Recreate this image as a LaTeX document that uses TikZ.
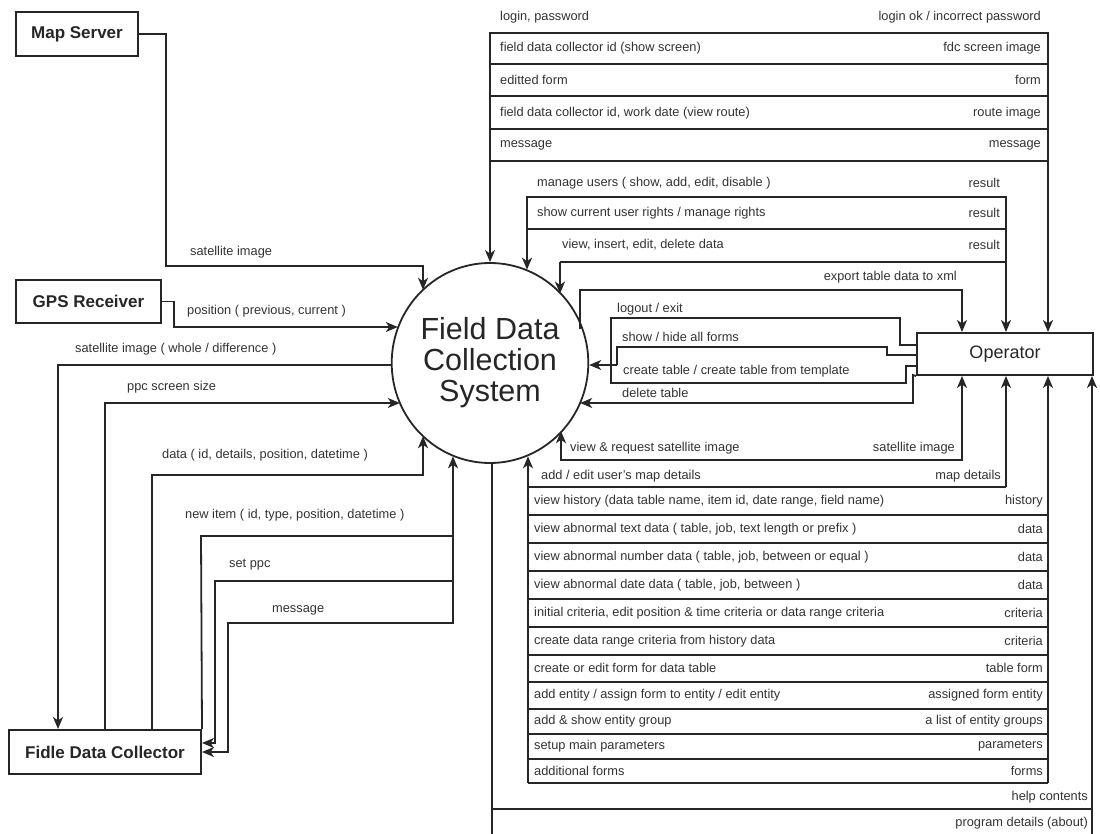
\documentclass[tikz,border=0pt]{standalone}
\usepackage{fontspec}
\setmainfont{Liberation Sans}
\usetikzlibrary{arrows.meta,shapes.geometric}
\newcommand{\lblfont}{\fontsize{12.8}{14}\selectfont}
\tikzset{
  tip/.tip={Stealth[length=12pt,width=10pt,inset=3.5pt]},
  flow/.style={line width=1.8pt, draw=black!85},
  arr/.style={flow, -tip},
  both/.style={flow, tip-tip},
  lbl/.style={inner sep=0pt, font=\lblfont, text=black!80},
  ext/.style={draw=black!85, line width=2pt, inner sep=0pt, font=\fontsize{17}{20}\selectfont\bfseries, text=black!85},
}
\begin{document}
\begin{tikzpicture}[x=1pt,y=-1pt]
\useasboundingbox (0,0) rectangle (1100,834);
\fill[white] (0,0) rectangle (1100,834);

% external entities and the process
\node[ext, minimum width=122pt, minimum height=44pt] (ms) at (77,34) {Map Server};
\node[ext, minimum width=145pt, minimum height=43pt] (gps) at (88.5,301.5) {GPS Receiver};
\node[ext, minimum width=192pt, minimum height=44pt] (fdc) at (105,752) {Fidle Data Collector};
\node[ext, minimum width=176pt, minimum height=42pt, font=\fontsize{18}{20}\selectfont] (op) at (1005,354) {Operator};
\node[ellipse, draw=black!85, line width=1.8pt, minimum width=190pt, minimum height=200pt, inner sep=0pt,
      align=center, font=\fontsize{30.5}{31}\selectfont, text=black!85] (sys) at (490,363) {Field Data\\Collection\\System};

\coordinate (bot1) at (492,845);
\coordinate (bot2) at (1092,845);

% ---- left side flows ----
\draw[arr] (ms.east) -| (166,266) -- (423,266) -- (423,266 |- sys.133);
\node[lbl, anchor=west] (t-ms) at (190,252) {satellite image};

\draw[arr] (gps.east) -| (174,327) -- (174,327 -| sys.158);
\node[lbl, anchor=west] (t-gps) at (187,311) {position ( previous, current )};

\draw[arr] (sys.181) -- (sys.181 -| 58,0) -- (58,0 |- fdc.north);
\node[lbl, anchor=west] (t-sw) at (75,349) {satellite image ( whole / difference )};

\draw[arr] (105,0 |- fdc.north) -- (105,403) -- (105,403 -| sys.205);
\node[lbl, anchor=west] (t-ppc) at (127,387) {ppc screen size};

\draw[arr] (152,0 |- fdc.north) -- (152,475) -- (423,475) -- (423,475 |- sys.227);
\node[lbl, anchor=west] (t-data) at (162,455) {data ( id, details, position, datetime )};

\draw[arr] (fdc.north east) -- (201,536) -- (453,536) -- (453,536 |- sys.248);
\node[lbl, anchor=west] (t-new) at (185,515) {new item ( id, type, position, datetime )};

\draw[arr] (453,581) -- (215,581) -- (215,743) -- (215,743 -| fdc.east);
\node[lbl, anchor=west] (t-set) at (229,565) {set ppc};

\draw[arr] (453,536) -- (453,623) -- (228,623) -- (228,752) -- (228,752 -| fdc.east);
\node[lbl, anchor=west] (t-msg) at (272,610) {message};

% ---- upper block ----
\draw[both] (sys.north) -- (490,33) -- (1048,33) -- (1048,0 |- op.north);
\foreach \yy in {64,96,129,161} \draw[flow] (490,\yy) -- (1048,\yy);
\node[lbl, anchor=west] (u0l) at (500,17) {login, password};
\node[lbl, anchor=east] (u0r) at (1041,17) {login ok / incorrect password};
\node[lbl, anchor=west] (u1l) at (500,48) {field data collector id (show screen)};
\node[lbl, anchor=east] (u1r) at (1041,48) {fdc screen image};
\node[lbl, anchor=west] (u2l) at (500,80) {editted form};
\node[lbl, anchor=east] (u2r) at (1041,80) {form};
\node[lbl, anchor=west] (u3l) at (500,113) {field data collector id, work date (view route)};
\node[lbl, anchor=east] (u3r) at (1041,113) {route image};
\node[lbl, anchor=west] (u4l) at (500,145) {message};
\node[lbl, anchor=east] (u4r) at (1041,145) {message};

\draw[both] (527,197 |- sys.68) -- (527,197) -- (1006,197) -- (1006,0 |- op.north);
\draw[flow] (527,229) -- (1006,229);
\draw[arr] (560,262) -- (560,262 |- sys.44);
\draw[flow] (560,262) -- (1006,262);
\node[lbl, anchor=west] (m0l) at (537,183) {manage users ( show, add, edit, disable )};
\node[lbl, anchor=east] (m0r) at (1000,183) {result};
\node[lbl, anchor=west] (m1l) at (537,213) {show current user rights / manage rights};
\node[lbl, anchor=east] (m1r) at (1000,213) {result};
\node[lbl, anchor=west] (m2l) at (562,245) {view, insert, edit, delete data};
\node[lbl, anchor=east] (m2r) at (1000,245) {result};

\draw[arr] (580,290 |- sys.20) -- (580,290) -- (962,290) -- (962,0 |- op.north);
\node[lbl, anchor=east] (t-exp) at (957,277) {export table data to xml};

% ---- table commands into the process ----
\draw[flow] (op.west |- 0,345) -- (900,345) -- (900,318) -- (611,318) -- (611,365);
\draw[flow] (op.west |- 0,355) -- (887,355) -- (887,347) -- (617,347) -- (617,365);
\draw[flow] (op.west |- 0,366) -- (906,366) -- (906,383) -- (611,383) -- (611,365);
\draw[arr] (617,365) -- (617,365 -| sys.359);
\node[lbl, anchor=west] (t-out) at (617,309) {logout / exit};
\node[lbl, anchor=west] (t-sh) at (622,337) {show / hide all forms};
\node[lbl, anchor=west] (t-ct) at (623,371) {create table / create table from template};

\draw[arr] (op.south west) -- (913,375) -- (913,403) -- (913,403 -| sys.335);
\node[lbl, anchor=west] (t-del) at (622,393) {delete table};

\draw[both] (561,460 |- sys.317) -- (561,460) -- (962,460) -- (962,0 |- op.south);
\node[lbl, anchor=west] (t-vr) at (570,448) {view \& request satellite image};
\node[lbl, anchor=east] (t-si) at (955,448) {satellite image};

% ---- lower block ----
\draw[arr] (528,783) -- (528,783 |- sys.292);
\draw[flow] (528,487) -- (1006,487);
\draw[arr] (1006,487) -- (1006,0 |- op.south);
\draw[arr] (1048,783) -- (1048,0 |- op.south);
\foreach \yy in {515,543,571,599,627,655,682,709,734,759,783} \draw[flow] (528,\yy) -- (1048,\yy);
\node[lbl, anchor=west] (t-md) at (541,476) {add / edit user's map details};
\node[lbl, anchor=east] (t-mdr) at (1001,476) {map details};

\node[lbl, anchor=west] (r1l) at (534,501) {view history (data table name, item id, date range, field name)};
\node[lbl, anchor=east] (r1r) at (1043,501) {history};
\node[lbl, anchor=west] (r2l) at (534,529) {view abnormal text data ( table, job, text length or prefix )};
\node[lbl, anchor=east] (r2r) at (1043,529) {data};
\node[lbl, anchor=west] (r3l) at (534,557) {view abnormal number data ( table, job, between or equal )};
\node[lbl, anchor=east] (r3r) at (1043,557) {data};
\node[lbl, anchor=west] (r4l) at (534,585) {view abnormal date data ( table, job, between )};
\node[lbl, anchor=east] (r4r) at (1043,585) {data};
\node[lbl, anchor=west] (r5l) at (534,613) {initial criteria, edit position \& time criteria or data range criteria};
\node[lbl, anchor=east] (r5r) at (1043,613) {criteria};
\node[lbl, anchor=west] (r6l) at (534,641) {create data range criteria from history data};
\node[lbl, anchor=east] (r6r) at (1043,641) {criteria};
\node[lbl, anchor=west] (r7l) at (534,668) {create or edit form for data table};
\node[lbl, anchor=east] (r7r) at (1043,668) {table form};
\node[lbl, anchor=west] (r8l) at (534,695) {add entity / assign form to entity / edit entity};
\node[lbl, anchor=east] (r8r) at (1043,695) {assigned form entity};
\node[lbl, anchor=west] (r9l) at (534,721) {add \& show entity group};
\node[lbl, anchor=east] (r9r) at (1043,721) {a list of entity groups};
\node[lbl, anchor=west] (r10l) at (534,746) {setup main parameters};
\node[lbl, anchor=east] (r10r) at (1043,746) {parameters};
\node[lbl, anchor=west] (r11l) at (534,771) {additional forms};
\node[lbl, anchor=east] (r11r) at (1043,771) {forms};

% ---- help flows ----
\draw[flow] (492,0 |- sys.271) -- (bot1);
\draw[flow] (492,809) -- (1092,809);
\draw[arr] (bot2) -- (1092,0 |- op.south);
\node[lbl, anchor=east] (t-help) at (1088,797) {help contents};
\node[lbl, anchor=east] (t-about) at (1088,823) {program details (about)};
\end{tikzpicture}
\end{document}
